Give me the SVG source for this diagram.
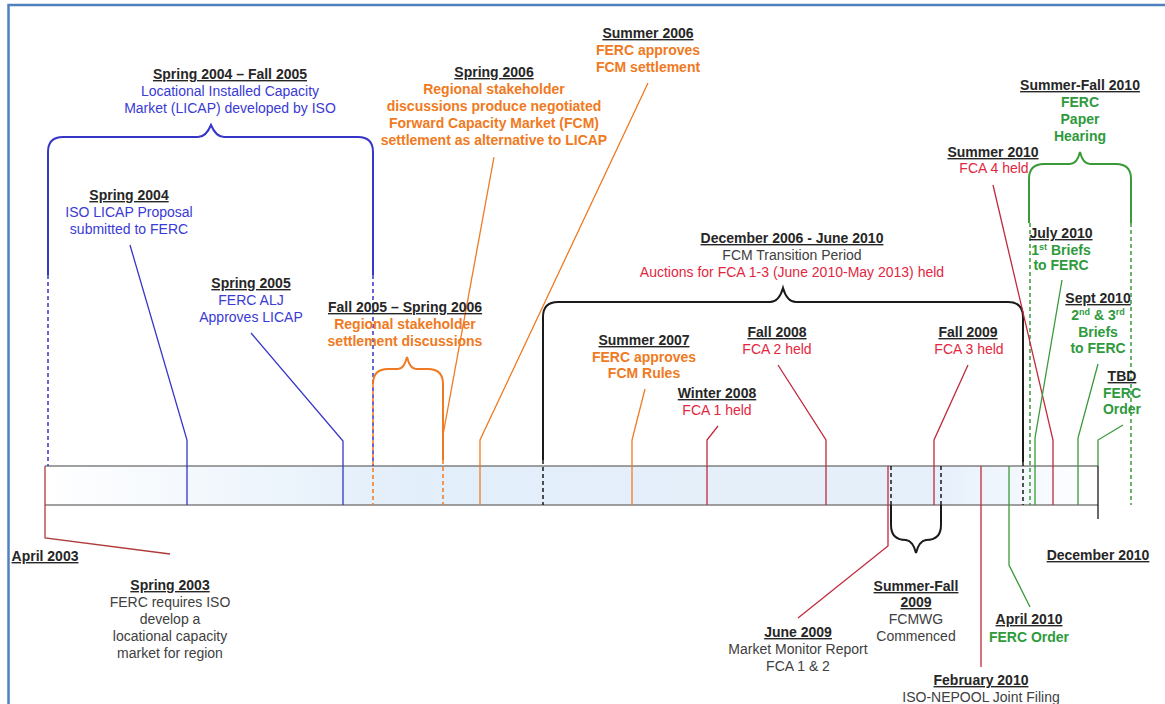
<svg xmlns="http://www.w3.org/2000/svg" width="1165" height="704" viewBox="0 0 1165 704">
<defs>
<linearGradient id="barg" x1="0" y1="0" x2="1" y2="0">
<stop offset="0" stop-color="#ffffff"/>
<stop offset="0.35" stop-color="#e2eefa"/>
<stop offset="0.85" stop-color="#e6f0fb"/>
<stop offset="1" stop-color="#ffffff"/>
</linearGradient>
<style>
.t{font-family:"Liberation Sans",Arial,sans-serif;font-size:14px;text-anchor:middle}
.h{font-weight:bold;fill:#262626;text-decoration:underline}
.blue{fill:#3a3ad4}
.org{fill:#f07a22;font-weight:bold}
.red{fill:#e3263f}
.grn{fill:#2f9a3c;font-weight:bold}
.gry{fill:#404040}
.c{fill:none;stroke-width:1.3}
.br{fill:none;stroke-width:2}
.d{fill:none;stroke-width:1.5;stroke-dasharray:4 3}
.lb{stroke:#3636c8}
.lo{stroke:#f07a22}
.lr{stroke:#c02a3c}
.lg{stroke:#3a9a3a}
.lk{stroke:#1a1a1a}
</style>
</defs>
<rect width="1165" height="704" fill="#ffffff"/>
<path d="M8.5,704 V5 H1165" fill="none" stroke="#4f81bd" stroke-width="2.5"/>

<g id="timeline-bar">
<rect x="45" y="466" width="1053" height="39" fill="url(#barg)"/>
<line x1="45" y1="466" x2="1098" y2="466" stroke="#808080" stroke-width="1.5"/>
<line x1="45" y1="505" x2="1098" y2="505" stroke="#808080" stroke-width="1.5"/>
</g>

<g id="connectors">
<!-- braces -->
<path class="br lb" d="M48,275 V152 Q48,137 63,137 H198 Q206,137 211,125 Q216,137 224,137 H358 Q373,137 373,152 V275"/>
<path class="d lb" d="M48,275 V466 M373,275 V466"/>
<path class="br lo" d="M373,384 Q373,369 388,369 H398 Q404,369 407,357 Q410,369 416,369 H428 Q443,369 443,384 V460"/>
<path class="d lo" d="M373,384 V505 M443,460 V505"/>
<path class="br lk" d="M543,460 V317 Q543,302 558,302 H770 Q779,302 783,288 Q787,302 796,302 H1008 Q1023,302 1023,317 V462"/>
<path class="d lk" d="M543,460 V505 M1023,462 V505 M891,466 V505 M941,466 V505"/>
<path class="br lg" d="M1029,223 V179 Q1029,164 1044,164 H1070 Q1077,164 1080,152 Q1083,164 1090,164 H1116 Q1131,164 1131,179 V223"/>
<path class="d lg" d="M1030,223 V505 M1131,223 V505"/>
<path class="br lk" d="M891,505 V525 Q891,540 906,540 Q913,541 916,553 Q919,541 926,540 Q941,540 941,525 V505"/>
<!-- leader lines -->
<polyline class="c" stroke="#b03a3a" points="45,466 45,538 170,554"/>
<polyline class="c lb" points="130,245 187,440 187,505"/>
<polyline class="c lb" points="251,333 343,441 343,505"/>
<line class="c lo" x1="494" y1="157" x2="443" y2="435"/>
<polyline class="c lo" points="648,83 480,440 480,505"/>
<polyline class="c lo" points="645,389 632,440 632,505"/>
<polyline class="c lr" points="718,426 707,440 707,505"/>
<polyline class="c lr" points="778,365 826,440 826,505"/>
<polyline class="c lr" points="968,365 934,440 934,505"/>
<polyline class="c lr" points="993,185 1053,440 1053,505"/>
<polyline class="c lr" points="888,466 888,546 798,618"/>
<line class="c lr" x1="981" y1="466" x2="981" y2="667"/>
<polyline class="c lg" points="1009,466 1009,565 1030,607"/>
<polyline class="c lg" points="1062,280 1035,438 1035,505"/>
<polyline class="c lg" points="1098,364 1078,438 1078,505"/>
<polyline class="c lg" points="1123,425 1098,440 1098,466"/>
<line class="c lk" x1="1098" y1="466" x2="1098" y2="519" stroke-width="1.6"/>
</g>

<g id="node-licap-period">
<text class="t h" x="230" y="79">Spring 2004 – Fall 2005</text>
<text class="t blue" x="230" y="96">Locational Installed Capacity</text>
<text class="t blue" x="230" y="113">Market (LICAP) developed by ISO</text>
</g>
<g id="node-spring-2004">
<text class="t h" x="129" y="200">Spring 2004</text>
<text class="t blue" x="129" y="217">ISO LICAP Proposal</text>
<text class="t blue" x="129" y="234">submitted to FERC</text>
</g>
<g id="node-spring-2005">
<text class="t h" x="251" y="288">Spring 2005</text>
<text class="t blue" x="251" y="305">FERC ALJ</text>
<text class="t blue" x="251" y="322">Approves LICAP</text>
</g>
<g id="node-fall-2005">
<text class="t h" x="405" y="312">Fall 2005 – Spring 2006</text>
<text class="t org" x="405" y="329">Regional stakeholder</text>
<text class="t org" x="405" y="346">settlement discussions</text>
</g>
<g id="node-spring-2006">
<text class="t h" x="494" y="77">Spring 2006</text>
<text class="t org" x="494" y="94">Regional stakeholder</text>
<text class="t org" x="494" y="111">discussions produce negotiated</text>
<text class="t org" x="494" y="128">Forward Capacity Market (FCM)</text>
<text class="t org" x="494" y="145">settlement as alternative to LICAP</text>
</g>
<g id="node-summer-2006">
<text class="t h" x="648" y="38">Summer 2006</text>
<text class="t org" x="648" y="55">FERC approves</text>
<text class="t org" x="648" y="72">FCM settlement</text>
</g>
<g id="node-transition">
<text class="t h" x="792" y="243">December 2006 - June 2010</text>
<text class="t gry" x="792" y="260">FCM Transition Period</text>
<text class="t red" x="792" y="277">Auctions for FCA 1-3 (June 2010-May 2013) held</text>
</g>
<g id="node-summer-2007">
<text class="t h" x="644" y="345">Summer 2007</text>
<text class="t org" x="644" y="362">FERC approves</text>
<text class="t org" x="644" y="378">FCM Rules</text>
</g>
<g id="node-winter-2008">
<text class="t h" x="717" y="398">Winter 2008</text>
<text class="t red" x="717" y="415">FCA 1 held</text>
</g>
<g id="node-fall-2008">
<text class="t h" x="777" y="337">Fall 2008</text>
<text class="t red" x="777" y="354">FCA 2 held</text>
</g>
<g id="node-fall-2009">
<text class="t h" x="968" y="337">Fall 2009</text>
<text class="t red" x="969" y="354">FCA 3 held</text>
</g>
<g id="node-summer-2010">
<text class="t h" x="993" y="157">Summer 2010</text>
<text class="t red" x="994" y="173">FCA 4 held</text>
</g>
<g id="node-paper-hearing">
<text class="t h" x="1080" y="90">Summer-Fall 2010</text>
<text class="t grn" x="1080" y="107">FERC</text>
<text class="t grn" x="1080" y="124">Paper</text>
<text class="t grn" x="1080" y="141">Hearing</text>
</g>
<g id="node-july-2010">
<text class="t h" x="1061" y="238">July 2010</text>
<text class="t grn" x="1061" y="255">1<tspan font-size="9" baseline-shift="super">st</tspan> Briefs</text>
<text class="t grn" x="1061" y="270">to FERC</text>
</g>
<g id="node-sept-2010">
<text class="t h" x="1098" y="303">Sept 2010</text>
<text class="t grn" x="1098" y="320">2<tspan font-size="9" baseline-shift="super">nd</tspan> &amp; 3<tspan font-size="9" baseline-shift="super">rd</tspan></text>
<text class="t grn" x="1098" y="337">Briefs</text>
<text class="t grn" x="1098" y="353">to FERC</text>
</g>
<g id="node-tbd">
<text class="t h" x="1122" y="381">TBD</text>
<text class="t grn" x="1122" y="398">FERC</text>
<text class="t grn" x="1122" y="414">Order</text>
</g>
<g id="node-april-2003">
<text class="t h" x="45" y="561">April 2003</text>
</g>
<g id="node-spring-2003">
<text class="t h" x="170" y="590">Spring 2003</text>
<text class="t gry" x="170" y="607">FERC requires ISO</text>
<text class="t gry" x="170" y="624">develop a</text>
<text class="t gry" x="170" y="641">locational capacity</text>
<text class="t gry" x="170" y="658">market for region</text>
</g>
<g id="node-june-2009">
<text class="t h" x="798" y="637">June 2009</text>
<text class="t gry" x="798" y="654">Market Monitor Report</text>
<text class="t gry" x="798" y="671">FCA 1 &amp; 2</text>
</g>
<g id="node-fcmwg">
<text class="t h" x="916" y="591">Summer-Fall</text>
<text class="t h" x="916" y="607">2009</text>
<text class="t gry" x="916" y="624">FCMWG</text>
<text class="t gry" x="916" y="641">Commenced</text>
</g>
<g id="node-feb-2010">
<text class="t h" x="981" y="685">February 2010</text>
<text class="t gry" x="981" y="702">ISO-NEPOOL Joint Filing</text>
</g>
<g id="node-april-2010">
<text class="t h" x="1029" y="624">April 2010</text>
<text class="t grn" x="1029" y="642">FERC Order</text>
</g>
<g id="node-dec-2010">
<text class="t h" x="1098" y="560">December 2010</text>
</g>
</svg>
